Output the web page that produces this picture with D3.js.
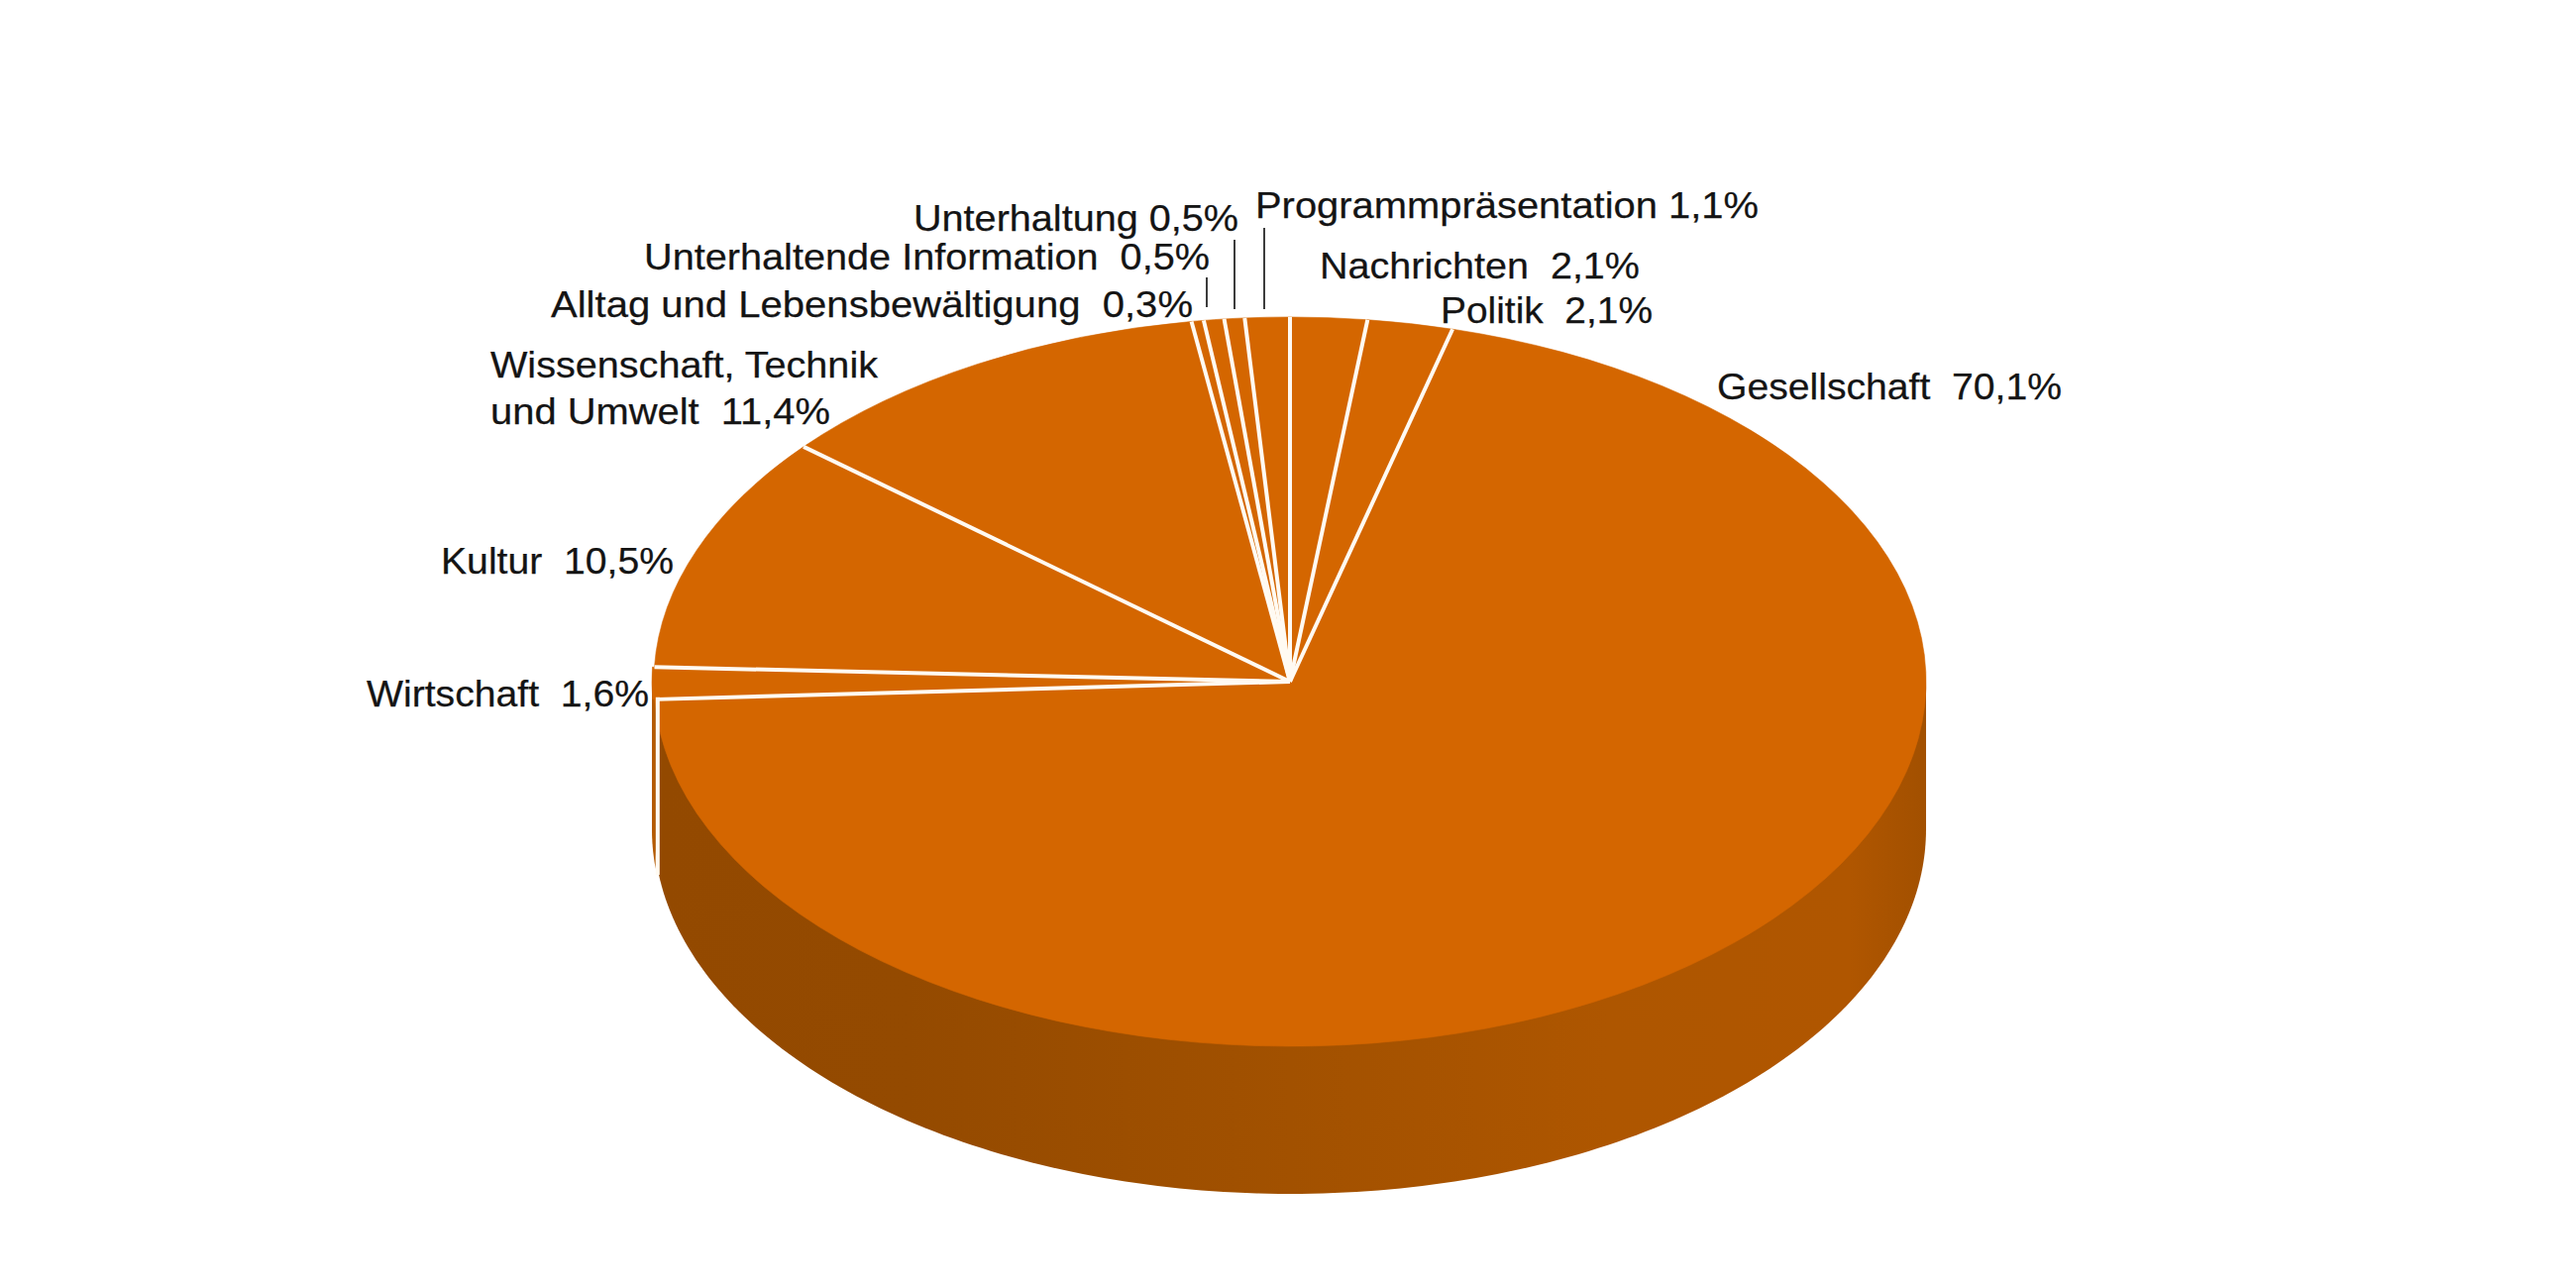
<!DOCTYPE html>
<html><head><meta charset="utf-8">
<style>html,body{margin:0;background:#fff}svg{display:block}text{font-family:"Liberation Sans",Arial,sans-serif;fill:#141414;stroke:#141414;stroke-width:.25;white-space:pre}</style>
<script src="https://cdn.jsdelivr.net/npm/d3@7"></script></head><body>
<script>
(function(){
const categories = ["Nachrichten","Politik","Gesellschaft","Wirtschaft","Kultur","Wissenschaft, Technik und Umwelt","Alltag und Lebensbewältigung","Unterhaltende Information","Unterhaltung","Programmpräsentation"];
const shares = [2.1,2.1,70.1,1.6,10.5,11.4,0.3,0.5,0.5,1.1];

const W=2600,H=1300,cx=1302,cy=688,rx=642,ry=368,depth=149,fs=37.8;
const svg=d3.select("body").append("svg").attr("width",W).attr("height",H);
const TOP="#d46600", LINE="#fffaf2", INK="#1a1a1a";
const rad=Math.PI/180;

// the tilted drawing squeezes some slices by a fraction of a degree
const tilt=d3.scaleLinear().domain([0,7.54,15.08,266.7,272.4,310.1,351,360].map(d=>d*rad))
  .range([0,7,14.8,267,272,309.8,350.7,360].map(d=>d*rad));
const arcs=d3.pie().sort(null).value(d=>d)(shares)
  .map(d=>({...d,startAngle:tilt(d.startAngle),endAngle:tilt(d.endAngle)}));
const pt=(a,dy=0)=>[cx+rx*Math.sin(a),cy+dy-ry*Math.cos(a)];

// side gradient
const grad=svg.append("defs").append("linearGradient").attr("id","side").attr("gradientUnits","userSpaceOnUse")
  .attr("x1",cx-rx).attr("x2",cx+rx).attr("y1",0).attr("y2",0);
[[0,"#934900"],[.2,"#944a00"],[.5,"#a25100"],[.75,"#ae5600"],[.94,"#b05600"],[1,"#a25000"]]
  .forEach(s=>grad.append("stop").attr("offset",s[0]).attr("stop-color",s[1]));

// side wall: lower half of the cylinder
const halfAngles=d3.range(0,181).map(d=>(90+d)*rad);
const wall=d3.line()(halfAngles.map(a=>pt(a,depth)).concat([pt(Math.PI*1.5),pt(Math.PI/2)]));
svg.append("path").attr("d",wall+"Z").attr("fill","url(#side)");

// strip of Wirtschaft slice left of the white edge
const gEnd=arcs[2].endAngle, edgeX=663.8;
const edgeA=Math.PI+Math.asin((cx-edgeX)/rx);
const stripAngles=d3.range(0,41).map(i=>edgeA+(1.5*Math.PI-edgeA)*i/40);
svg.append("path").attr("transform","translate(-2,0)")
  .attr("d",d3.line()(stripAngles.map(a=>pt(a,depth)).concat([pt(1.5*Math.PI),[edgeX,pt(gEnd)[1]]]))+"Z").attr("fill","#b45a00");

// top surface
const arc=d3.arc().innerRadius(0).outerRadius(rx);
const face=svg.append("g").attr("transform",`translate(${cx},${cy}) scale(1,${ry/rx})`);
face.selectAll("path").data(arcs).join("path").attr("d",arc)
  .attr("transform",d=>d.index===3?"translate(-2,0)":null)
  .attr("fill",TOP).attr("stroke",TOP).attr("stroke-width",.6).attr("vector-effect","non-scaling-stroke");

// white separators
const bounds=arcs.map(d=>d.endAngle);
svg.append("g").selectAll("line").data(bounds).join("line")
  .attr("x1",cx).attr("y1",cy)
  .attr("x2",d=>pt(d)[0]+(d===gEnd?2:0)).attr("y2",d=>pt(d)[1])
  .attr("stroke",LINE).attr("stroke-width",4);
// white edge of the largest slice
svg.append("line").attr("x1",edgeX).attr("x2",edgeX).attr("y1",pt(gEnd)[1]-2).attr("y2",pt(edgeA,depth)[1]+6)
  .attr("stroke",LINE).attr("stroke-width",4);

// leaders
const leaders=[[1276,230,312],[1246,242,312],[1218,280,310]];
svg.append("g").selectAll("line").data(leaders).join("line")
  .attr("x1",d=>d[0]).attr("x2",d=>d[0]).attr("y1",d=>d[1]).attr("y2",d=>d[2])
  .attr("stroke",INK).attr("stroke-width",1.7);

// labels
const labels=[
 ["Programmpräsentation 1,1%",1267,220,508],
 ["Unterhaltung 0,5%",922,233,328],
 ["Unterhaltende Information  0,5%",650,272,571],
 ["Alltag und Lebensbewältigung  0,3%",556,320,648],
 ["Nachrichten  2,1%",1332,281,323],
 ["Politik  2,1%",1454,326,214],
 ["Gesellschaft  70,1%",1733,403,348],
 ["Wissenschaft, Technik",495,381,391],
 ["und Umwelt  11,4%",495,428,343],
 ["Kultur  10,5%",445,579,235],
 ["Wirtschaft  1,6%",370,713,285]
];
svg.append("g").selectAll("text").data(labels).join("text")
  .attr("x",d=>d[1]).attr("y",d=>d[2]).attr("font-size",fs)
  .attr("textLength",d=>d[3]).attr("lengthAdjust","spacingAndGlyphs")
  .text(d=>d[0]);
})();
</script></body></html>
